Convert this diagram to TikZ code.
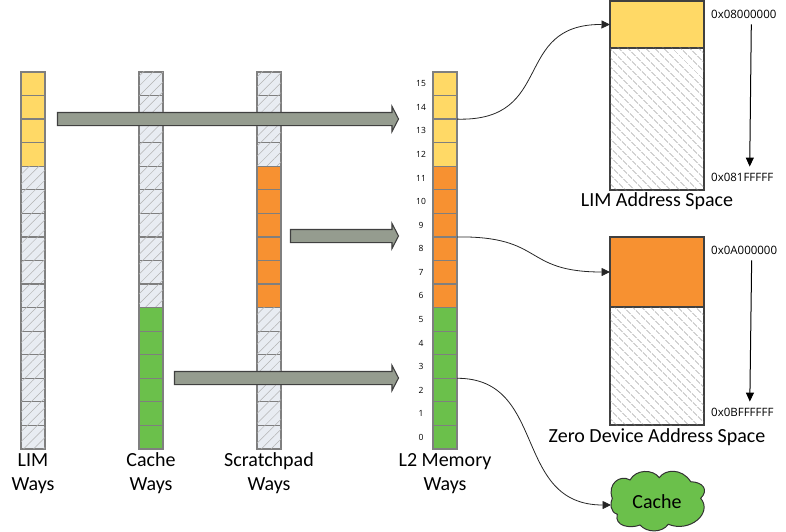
\documentclass[tikz,border=0pt]{standalone}
\usepackage{fontspec}
\setmainfont{Carlito}
\newfontfamily\smallfont{Open Sans}
\usetikzlibrary{patterns.meta,shapes.arrows,arrows.meta}
\definecolor{cellline}{HTML}{7F7F7F}
\definecolor{limyellow}{HTML}{FFD966}
\definecolor{sporange}{HTML}{F79131}
\definecolor{cachegreen}{HTML}{6BC04B}
\definecolor{waybg}{HTML}{E8ECF2}
\definecolor{blockfill}{HTML}{959C8F}
\tikzset{
  x=1pt,y=-1pt,
  wayc/.style={draw=cellline,line width=1.3pt,minimum width=24pt,minimum height=23.56pt,inner sep=0pt,outer sep=0pt,anchor=north west},
  free/.style={wayc,fill=waybg,postaction={pattern={Lines[angle=45,distance=7pt,line width=.5pt]},pattern color=black!30}},
  yel/.style={wayc,fill=limyellow},
  org/.style={wayc,fill=sporange},
  grn/.style={wayc,fill=cachegreen},
  lab/.style={font=\fontsize{20}{24}\selectfont,align=center,inner sep=0pt},
  num/.style={font=\smallfont\fontsize{8.5}{10}\selectfont,inner sep=0pt},
  addr/.style={font=\smallfont\fontsize{11.5}{13}\selectfont,inner sep=0pt},
  blockarrow/.style={single arrow,draw=black!75,fill=blockfill,line width=1.1pt,text height=12pt,text depth=0pt,single arrow head extend=6pt,single arrow tip angle=125,inner sep=0pt,outer sep=0pt,anchor=west},
  space/.style={draw=black!75,line width=1.2pt,minimum width=94pt,inner sep=0pt,outer sep=0pt,anchor=north west},
  spacefree/.style={space,fill=white,postaction={pattern={Lines[angle=-45,distance=6.4pt,line width=.6pt]},pattern color=black!50}},
  link/.style={draw=black!85,line width=.8pt,-{Triangle[length=8.5pt,width=8pt]}},
  addrline/.style={draw=black,line width=1pt,-{Triangle[length=9pt,width=8pt]}},
  cloudshape/.style={draw=black!80,line width=1pt,fill=cachegreen},
}
\begin{document}
\begin{tikzpicture}
\useasboundingbox (0,0) rectangle (786,532);
\foreach \i in {0,...,15}{
  \pgfmathtruncatemacro{\n}{15-\i}
  \pgfmathsetmacro{\yy}{72+\i*23.56}
  \ifnum\n>11 \def\st{yel}\else\def\st{free}\fi
  \node[\st] (lim-\n) at (21,\yy) {};
  \ifnum\n<6 \def\st{grn}\else\def\st{free}\fi
  \node[\st] (cache-\n) at (139,\yy) {};
  \ifnum\n>11 \def\st{free}\else\ifnum\n>5 \def\st{org}\else\def\st{free}\fi\fi
  \node[\st] (sp-\n) at (257,\yy) {};
  \ifnum\n>11 \def\st{yel}\else\ifnum\n>5 \def\st{org}\else\def\st{grn}\fi\fi
  \node[\st] (l2-\n) at (433,\yy) {};
  \node[num] (num-\n) at (421,\yy+11.8) {\n};
}
% Labels
\node[lab] (limlab) at (33,473.5) {LIM\\Ways};
\node[lab] (cachelab) at (151,473.5) {Cache\\Ways};
\node[lab] (splab) at (269,473.5) {Scratchpad\\Ways};
\node[lab] (l2lab) at (445,473.5) {L2 Memory\\Ways};
% Block arrows
\node[blockarrow,minimum height=341pt] (arrowa) at (57.5,119) {};
\node[blockarrow,minimum height=108pt] (arrowb) at (290.5,236) {};
\node[blockarrow,minimum height=224pt] (arrowc) at (174.5,378) {};
% Address spaces
\node[space,fill=limyellow,minimum height=47pt] (limtop) at (610,1) {};
\node[spacefree,minimum height=142pt] (limrest) at (610,48) {};
\node[space,fill=sporange,minimum height=70pt] (zerotop) at (610,237) {};
\node[spacefree,minimum height=118pt] (zerorest) at (610,307) {};
\node[lab] (limname) at (657,201) {LIM Address Space};
\node[lab] (zeroname) at (657,437) {Zero Device Address Space};
% Addresses
\node[addr,anchor=west] (a0) at (711,14) {0x08000000};
\node[addr,anchor=west] (a1) at (711,177) {0x081FFFFF};
\node[addr,anchor=west] (b0) at (711,250) {0x0A000000};
\node[addr,anchor=west] (b1) at (711,412) {0x0BFFFFFF};
\draw[addrline] ([xshift=7.5pt,yshift=-6pt]a0.south) -- ([xshift=7.5pt,yshift=6pt]a1.north);
\draw[addrline] ([xshift=7.5pt,yshift=-6pt]b0.south) -- ([xshift=7.5pt,yshift=6pt]b1.north);
% Cloud
\path[cloudshape] (612.3,498.3)
  .. controls (607,484) and (620,474) .. (630,480)
  .. controls (636,469) and (653,469) .. (659.3,477.7)
  .. controls (665,469) and (682,468) .. (690.7,481.7)
  .. controls (703,482) and (709,490) .. (700.7,498.3)
  .. controls (713,513) and (690,533) .. (668.3,524.3)
  .. controls (662,533) and (647,533) .. (640,525)
  .. controls (630,529) and (614,526) .. (617.3,514.3)
  .. controls (610,512) and (610,503) .. cycle;
\node[lab] (cachetext) at (657,501.7) {Cache};
\coordinate (cacheport) at (611,505);
% Links
\draw[link] (l2-13.north east) .. controls (556,122) and (511,24) .. (limtop.west);
\draw[link] (l2-8.north east) .. controls (545,236) and (522,272) .. (zerotop.west);
\draw[link] (l2-2.north east) .. controls (548,378) and (512,505) .. (cacheport);
\end{tikzpicture}
\end{document}
